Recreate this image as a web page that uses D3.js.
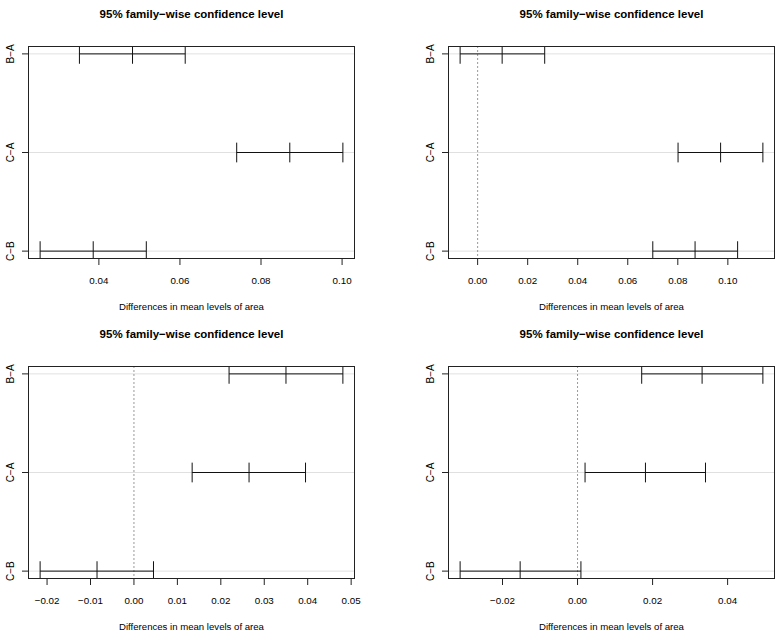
<!DOCTYPE html>
<html><head><meta charset="utf-8">
<script src="https://cdn.jsdelivr.net/npm/d3@7"></script>
<style>body{margin:0;background:#fff} text{font-family:"Liberation Sans",Arial,Helvetica,sans-serif;fill:#000}</style>
</head><body>
<svg id="c" width="784" height="638"></svg>
<script>
// ---- data ----
const comparisons = ["B−A", "C−A", "C−B"];
const yvals = [3, 2, 1];

const est1 = [0.0483, 0.0871, 0.0386];
const lwr1 = [0.0352, 0.0740, 0.0255];
const upr1 = [0.0613, 0.1002, 0.0517];

const est2 = [0.0098, 0.0971, 0.0869];
const lwr2 = [-0.0070, 0.0801, 0.0700];
const upr2 = [0.0268, 0.1140, 0.1039];

const est3 = [0.0350, 0.0265, -0.0085];
const lwr3 = [0.0219, 0.0134, -0.0216];
const upr3 = [0.0481, 0.0395, 0.0045];

const est4 = [0.0332, 0.0181, -0.0153];
const lwr4 = [0.0171, 0.0020, -0.0313];
const upr4 = [0.0494, 0.0341, 0.0009];

const ticks1 = [0.04, 0.06, 0.08, 0.10];
const ticks2 = [0.00, 0.02, 0.04, 0.06, 0.08, 0.10];
const ticks3 = [-0.02, -0.01, 0.00, 0.01, 0.02, 0.03, 0.04, 0.05];
const ticks4 = [-0.02, 0.00, 0.02, 0.04];

const titleText = "95% family−wise confidence level";
const xLabel = "Differences in mean levels of area";

// ---- layout ----
const layout = [[28, 46], [448, 46], [28, 366], [448, 366]];
const W = 327, H = 213;

const series = [
  {est: est1, lwr: lwr1, upr: upr1, ticks: ticks1},
  {est: est2, lwr: lwr2, upr: upr2, ticks: ticks2},
  {est: est3, lwr: lwr3, upr: upr3, ticks: ticks3},
  {est: est4, lwr: lwr4, upr: upr4, ticks: ticks4}
];

const svg = d3.select("#c");
const fmt = d3.format(".2f");

series.forEach((p, i) => {
  const [left, top] = layout[i];
  const g = svg.append("g").attr("transform", `translate(${left},${top})`);

  const lo = d3.min(p.lwr), hi = d3.max(p.upr);
  const ext = (hi - lo) * 0.04;
  const x = d3.scaleLinear().domain([lo - ext, hi + ext]).range([0, W]);
  const y = d3.scaleLinear().domain([0.92, 3.08]).range([H, 0]);

  const clipId = "clip" + i;
  g.append("clipPath").attr("id", clipId)
    .append("rect").attr("x", 0).attr("y", 0).attr("width", W).attr("height", H);
  const plot = g.append("g").attr("clip-path", `url(#${clipId})`);

  // light gray horizontal guide lines
  plot.selectAll("line.grid").data(yvals).enter().append("line")
    .attr("x1", 0).attr("x2", W)
    .attr("y1", d => y(d)).attr("y2", d => y(d))
    .attr("stroke", "#d8d8d8").attr("stroke-width", 0.8);

  // dashed zero line
  const [d0, d1] = x.domain();
  if (d0 < 0 && d1 > 0) {
    plot.append("line")
      .attr("x1", x(0)).attr("x2", x(0)).attr("y1", 0).attr("y2", H)
      .attr("stroke", "#555").attr("stroke-width", 0.6)
      .attr("stroke-dasharray", "2,2");
  }

  // interval segments
  comparisons.forEach((c, k) => {
    const yy = y(yvals[k]);
    plot.append("line")
      .attr("x1", x(p.lwr[k])).attr("x2", x(p.upr[k]))
      .attr("y1", yy).attr("y2", yy)
      .attr("stroke", "#111").attr("stroke-width", 1);
    [p.lwr[k], p.est[k], p.upr[k]].forEach(v => {
      plot.append("line")
        .attr("x1", x(v)).attr("x2", x(v))
        .attr("y1", y(yvals[k] - 0.1)).attr("y2", y(yvals[k] + 0.1))
        .attr("stroke", "#111").attr("stroke-width", 1);
    });
  });

  // box
  g.append("rect").attr("x", 0.5).attr("y", 0.5).attr("width", W - 1).attr("height", H - 1)
    .attr("fill", "none").attr("stroke", "#222").attr("stroke-width", 1);

  // x axis ticks & labels
  p.ticks.forEach(t => {
    g.append("line").attr("x1", x(t)).attr("x2", x(t))
      .attr("y1", H).attr("y2", H + 6)
      .attr("stroke", "#222").attr("stroke-width", 1);
    g.append("text").attr("x", x(t)).attr("y", H + 24.5)
      .attr("text-anchor", "middle").attr("font-size", "9.8px")
      .text(fmt(t));
  });

  // y axis ticks & labels
  comparisons.forEach((c, k) => {
    const yy = y(yvals[k]);
    g.append("line").attr("x1", -6).attr("x2", 0)
      .attr("y1", yy).attr("y2", yy)
      .attr("stroke", "#222").attr("stroke-width", 1);
    g.append("text")
      .attr("transform", `translate(-14,${yy}) rotate(-90)`)
      .attr("text-anchor", "middle").attr("font-size", "10px")
      .text(c);
  });

  // title
  g.append("text").attr("x", W / 2).attr("y", -28.5)
    .attr("text-anchor", "middle").attr("font-size", "11.5px").attr("font-weight", "bold")
    .text(titleText);

  // x label
  g.append("text").attr("x", W / 2).attr("y", H + 51)
    .attr("text-anchor", "middle").attr("font-size", "9.6px")
    .text(xLabel);
});
</script>
</body></html>
